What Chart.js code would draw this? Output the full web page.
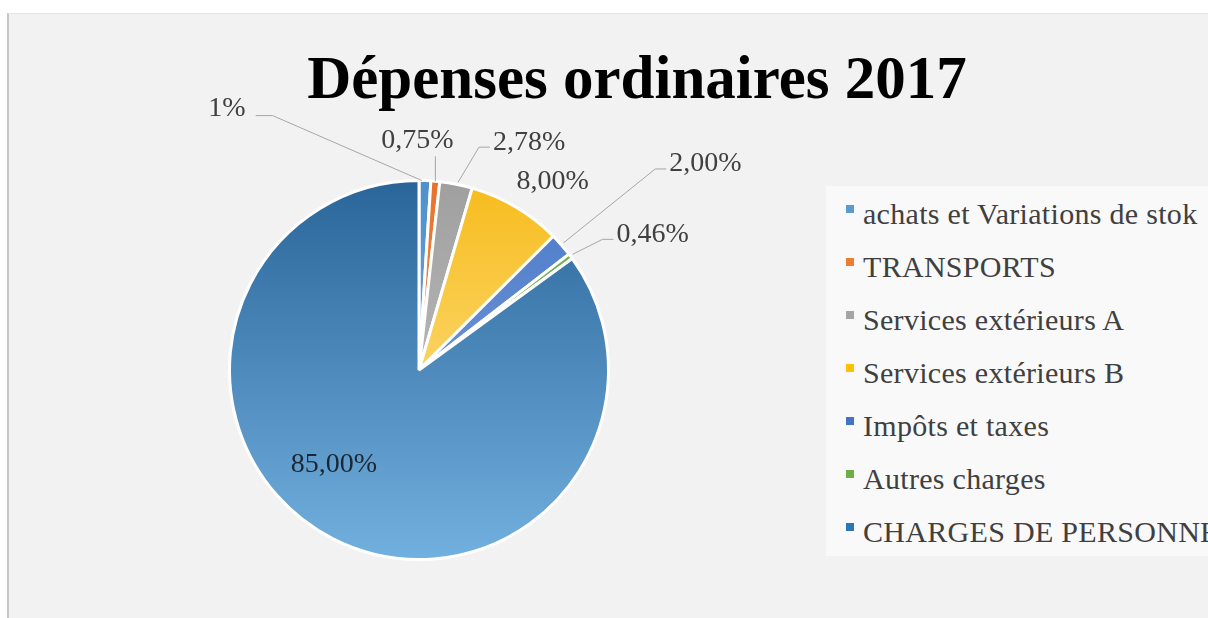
<!DOCTYPE html>
<html>
<head>
<meta charset="utf-8">
<script src="https://cdn.jsdelivr.net/npm/chart.js@4.4.1/dist/chart.umd.min.js"></script>
<style>
    body { margin: 0; width: 1208px; height: 618px; overflow: hidden; position: relative; background: #fff; font-family: "Liberation Serif", serif; }
    #frame { position: absolute; left: 7px; top: 13px; right: 0; bottom: 0; background: #f2f2f2; border-left: 2px solid #c6c6c6; border-top: 1px solid #e4e4e4; }
    #title { position: absolute; left: 137px; width: 1000px; top: 48px; text-align: center; font-size: 61px; line-height: 60px; font-weight: bold; color: #000; white-space: nowrap; }
    #legend { position: absolute; left: 826px; top: 186px; width: 382px; height: 370px; background: #f9f9f9; overflow: hidden; }
    .item { position: absolute; left: 0; white-space: nowrap; font-size: 30px; line-height: 30px; letter-spacing: 0.3px; color: #404040; }
    .item i { position: absolute; left: 20px; top: 6px; width: 8px; height: 8px; }
    .item span { position: absolute; left: 37px; top: 0; }
    canvas { position: absolute; left: 0; top: 0; }
</style>
</head>
<body>
<div id="frame"></div>
<div id="title">Dépenses ordinaires 2017</div>
<div id="legend"></div>
<canvas id="pieChart" width="1208" height="618"></canvas>

<script>
// Données
const categories = ['achats et Variations de stok', 'TRANSPORTS', 'Services extérieurs A', 'Services extérieurs B', 'Impôts et taxes', 'Autres charges', 'CHARGES DE PERSONNEL'];
const values = [1, 0.75, 2.78, 8, 2, 0.46, 85];
const valueLabels = ['1%', '0,75%', '2,78%', '8,00%', '2,00%', '0,46%', '85,00%'];

// Couleurs (haut / bas du dégradé)
const colorsTop = ['#4f90cc', '#e8712b', '#9f9f9f', '#f7bc1c', '#4a79c8', '#68a942', '#2a6599'];
const colorsBottom = ['#80b6e5', '#f5a46f', '#cbcbcb', '#ffeaa6', '#86a9e2', '#a0cf82', '#72b0df'];
const legendColors = ['#5b9bd5', '#ed7d31', '#a5a5a5', '#ffc000', '#4472c4', '#70ad47', '#2e75b6'];

// placement des étiquettes, relatif au point milieu du bord de chaque part
const labelPlacement = [
    { dx: -198, dy: -72, leader: true },
    { dx: -18, dy: -41, leader: true },
    { dx: 73, dy: -42, leader: true },
    { dx: 37, dy: -25, leader: false },
    { dx: 144, dy: -81, leader: true },
    { dx: 82, dy: -22, leader: true },
    { dx: 1, dy: -74, leader: false }
];

// Légende HTML
const legendEl = document.getElementById('legend');
legendEl.innerHTML = categories.map((c, i) => `
    <div class="item" style="top:${13 + i * 53}px"><i style="background:${legendColors[i]}"></i><span>${c}</span></div>
`).join('');

const labelsPlugin = {
    id: 'pieLabels',
    afterDatasetsDraw(chart) {
        const ctx = chart.ctx;
        const meta = chart.getDatasetMeta(0);
        ctx.save();
        ctx.font = '28px "Liberation Serif"';
        ctx.textAlign = 'center';
        ctx.textBaseline = 'middle';
        meta.data.forEach((arc, i) => {
            const p = arc.getProps(['x', 'y', 'startAngle', 'endAngle', 'outerRadius'], true);
            const mid = (p.startAngle + p.endAngle) / 2;
            const ax = p.x + Math.cos(mid) * p.outerRadius;
            const ay = p.y + Math.sin(mid) * p.outerRadius;
            const place = labelPlacement[i];
            const lx = ax + place.dx;
            const ly = ay + place.dy;
            const text = valueLabels[i];
            const w = ctx.measureText(text).width;

            if (place.leader) {
                ctx.strokeStyle = '#a6a6a6';
                ctx.lineWidth = 1;
                ctx.beginPath();
                if (Math.abs(lx - ax) < w / 2) {
                    ctx.moveTo(ax, ly + 16);
                    ctx.lineTo(ax, ay);
                } else if (lx < ax) {
                    ctx.moveTo(lx + w / 2 + 10, ly + 7);
                    ctx.lineTo(lx + w / 2 + 27, ly + 7);
                    ctx.lineTo(ax - 3, ay);
                } else {
                    ctx.moveTo(lx - w / 2 - 3, ly + 5);
                    ctx.lineTo(lx - w / 2 - 14, ly + 5);
                    ctx.lineTo(ax + 2, ay - 2);
                }
                ctx.stroke();
            }
            ctx.fillStyle = i === values.length - 1 ? '#1d2733' : '#404040';
            ctx.fillText(text, lx, ly);
        });
        ctx.restore();
    }
};

new Chart(document.getElementById('pieChart'), {
    type: 'pie',
    data: {
        labels: categories,
        datasets: [{
            data: values,
            backgroundColor: (c) => {
                const area = c.chart.chartArea;
                if (!area) return colorsTop[c.dataIndex];
                const g = c.chart.ctx.createLinearGradient(0, area.top, 0, area.bottom);
                g.addColorStop(0, colorsTop[c.dataIndex]);
                g.addColorStop(1, colorsBottom[c.dataIndex]);
                return g;
            },
            borderColor: '#ffffff',
            borderWidth: 3,
            hoverOffset: 0
        }]
    },
    options: {
        responsive: false,
        animation: false,
        layout: { padding: { left: 228, right: 598, top: 179, bottom: 57 } },
        plugins: {
            legend: { display: false },
            title: { display: false },
            tooltip: { enabled: false }
        }
    },
    plugins: [labelsPlugin]
});
</script>
</body>
</html>
